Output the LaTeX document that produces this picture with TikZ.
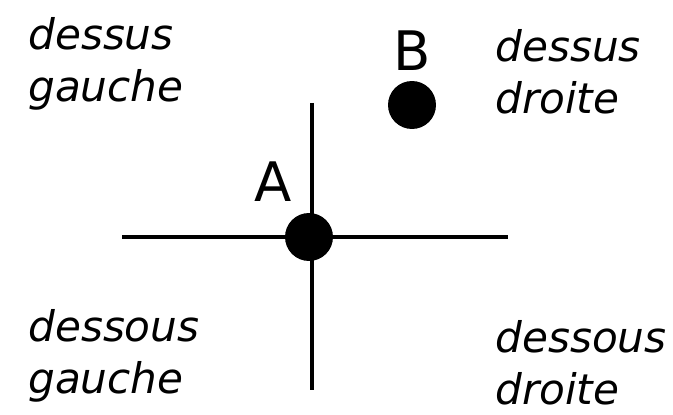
\documentclass[tikz,border=0pt]{standalone}
\usepackage{fontspec}
\setmainfont{DejaVu Sans}
\usetikzlibrary{positioning}

\begin{document}
\begin{tikzpicture}[
    x=0.02cm, y=-0.02cm,
    zone/.style={font=\fontsize{24}{29.5}\selectfont\itshape, align=left, anchor=west, inner sep=0pt},
    pt/.style={circle, fill=black, minimum size=0.96cm, inner sep=0pt},
    ptlbl/.style={font=\fontsize{31}{36}\selectfont, inner sep=0pt},
    axis/.style={line width=2.3pt}
]
\useasboundingbox (0,0) rectangle (673,415);
% axes
\coordinate (left)  at (122,237);
\coordinate (right) at (508,237);
\coordinate (top)   at (312,103);
\coordinate (bot)   at (312,390);
\draw[axis] (left) -- (right);
\draw[axis] (top) -- (bot);
% points
\node[pt] (A) at (309,237) {};
\node[pt] (B) at (412,105) {};
\node[ptlbl, above left=0.35cm and 0cm of A] (la) {A};
\node[ptlbl, above=0.2cm of B] (lb) {B};
% zones
\node[zone] (dg) at (28,64)  {dessus\\gauche};
\node[zone] (dd) at (495,72) {dessus\\droite};
\node[zone] (sg) at (28,356) {dessous\\gauche};
\node[zone] (sd) at (495,363) {dessous\\droite};
\end{tikzpicture}
\end{document}
